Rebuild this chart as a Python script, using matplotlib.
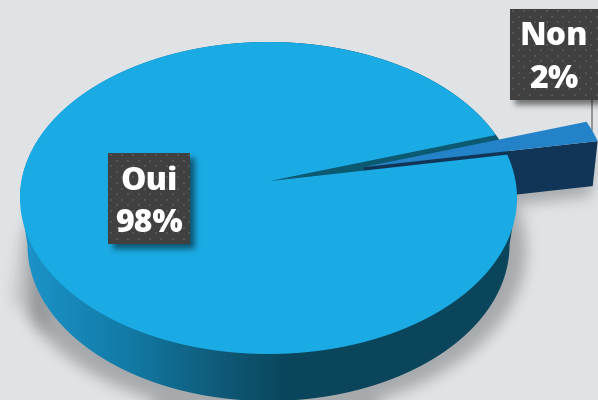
import numpy as np
import matplotlib
matplotlib.use('Agg')
import matplotlib.pyplot as plt
from matplotlib.patches import Polygon, Rectangle
from matplotlib.path import Path

# data
labels = ["Oui", "Non"]
shares = [98, 2]

W, H = 598, 400
BG = "#DFE3E6"

fig = plt.figure(figsize=(W / 100, H / 100), dpi=100, facecolor=BG)
ax = fig.add_axes([0, 0, 1, 1])
ax.axis('off')

# top and bottom ellipse of the disc, in pixels
cx, cy, rx, ry = 268.5, 198, 248.5, 156
bx, by, brx, bry = 268.5, 245, 241, 156
apex = np.array([270.0, 181.0])
squash = 0.7
start = 9.0  # where the small slice starts, degrees
sweep = 360 * shares[1] / sum(shares)


def rim_point(deg):
    # from the apex along a squashed ray, out to the top ellipse
    t = np.radians(deg)
    d = np.array([np.cos(t), -squash * np.sin(t)])
    ox, oy = apex[0] - cx, apex[1] - cy
    a = (d[0] / rx) ** 2 + (d[1] / ry) ** 2
    b = 2 * (ox * d[0] / rx ** 2 + oy * d[1] / ry ** 2)
    c = (ox / rx) ** 2 + (oy / ry) ** 2 - 1
    s = (-b + np.sqrt(b * b - 4 * a * c)) / (2 * a)
    return apex + s * d


def blur(img, sigma):
    n = int(sigma * 3)
    k = np.exp(-np.arange(-n, n + 1) ** 2 / (2 * sigma ** 2))
    k = k / k.sum()
    img = np.apply_along_axis(lambda r: np.convolve(r, k, mode='same'), 0, img)
    img = np.apply_along_axis(lambda r: np.convolve(r, k, mode='same'), 1, img)
    return img


def shadow_layer(mask, sigma, alpha, zorder):
    pad = 40
    big = np.pad(mask.astype(float), pad, mode='edge')
    a = blur(big, sigma)[pad:-pad, pad:-pad] * alpha
    rgba = np.zeros((H, W, 4))
    rgba[..., 3] = a
    return ax.imshow(rgba, extent=(0, W, H, 0), aspect='auto', zorder=zorder, interpolation='bilinear')


def ell(x0, y0, a, b, t1, t2, n=200):
    t = np.radians(np.linspace(t1, t2, n))
    return np.column_stack([x0 + a * np.cos(t), y0 - b * np.sin(t)])


xx, yy = np.meshgrid(np.arange(W) + 0.5, np.arange(H) + 0.5)
grid = np.column_stack([xx.ravel(), yy.ravel()])

# slice corners
rim_angles = np.linspace(start, start + sweep, 12)
rim = np.array([rim_point(a) for a in rim_angles])
slice_apex = np.array([364.0, 167.0])
slice_rim = slice_apex + 0.985 * (rim - apex)

wall_pts = np.vstack([slice_apex, slice_rim[:1], slice_rim[:1] + [-5, 45], slice_apex + [-5, 45]])

# soft shadow under disc and slice
m = ((xx - 266) / 260.0) ** 2 + ((yy - 250) / 166.0) ** 2 < 1
m = m & (yy > 205) & (xx > 30)
m2 = Path(wall_pts + [-2, 10]).contains_points(grid).reshape(H, W)
shadow_layer(m | m2, 7, 0.25, 1)

# faint tail of the shadow on the left
tail = Path([(23, 226), (12, 300), (50, 335), (40, 240)]).contains_points(grid).reshape(H, W)
shadow_layer(tail, 7, 0.13, 1)

# side of the disc with the dark gradient
stops_x = [27, 130, 220, 290, 510]
stops_c = [(27, 147, 201), (18, 122, 165), (15, 90, 120), (10, 69, 91), (10, 69, 91)]
xs = np.arange(W) + 0.5
grad = np.zeros((1, W, 3))
for i in range(3):
    grad[0, :, i] = np.interp(xs, stops_x, [c[i] / 255 for c in stops_c])
hull = np.vstack([ell(bx, by, brx, bry, 180, 360), ell(cx, cy, rx, ry, 0, 180)])
side = ax.imshow(grad, extent=(0, W, H, 0), aspect='auto', zorder=2)
side.set_clip_path(Polygon(hull, closed=True, transform=ax.transData))

# notch, pulled out slice, top of the disc
arc_angles = np.linspace(start + sweep, start + 360, 500)
top = np.vstack([apex, [rim_point(a) for a in arc_angles]])
ax.add_patch(Polygon(np.vstack([apex, rim]), closed=True, fc="#0B5A72", ec='none', zorder=3))
ax.add_patch(Polygon(wall_pts, closed=True, fc="#113557", ec='none', zorder=4))
ax.add_patch(Polygon(np.vstack([slice_apex, slice_rim]), closed=True, fc="#2382C8", ec='none', zorder=5))
ax.add_patch(Polygon(top, closed=True, fc="#1BABE4", ec='none', zorder=6))

# leader line
ax.plot([592, 592], [100, 130], color="#858585", lw=1.2, zorder=4.5)

# label boxes
boxes = [(108, 153, 82, 91), (510, 9, 95, 91)]
text_pos = [(149, 190, 232), (554, 45, 88)]
for i, (bxx, byy, bw, bh) in enumerate(boxes):
    sm = (xx > bxx + 5) & (xx < bxx + bw + 5) & (yy > byy + 5) & (yy < byy + bh + 5)
    shadow_layer(sm, 3, 0.5, 7)
    r = Rectangle((bxx, byy), bw, bh, fc="#404040", ec='none', zorder=8)
    ax.add_patch(r)
    px, py = [], []
    for j, y in enumerate(np.arange(byy + 2, byy + bh, 5.6)):
        for x in np.arange(bxx + 3 + (j % 2) * 5.6, bxx + bw, 11.2):
            px.append(x)
            py.append(y)
    dots = ax.scatter(px, py, s=3.6, marker='s', color="#545454", linewidths=0, zorder=8.5)
    dots.set_clip_path(r)
    tx, y1, y2 = text_pos[i]
    ax.text(tx, y1, labels[i], color='white', family='Open Sans', weight=800, fontsize=23,
            ha='center', va='baseline', zorder=9)
    ax.text(tx, y2, "%d%%" % shares[i], color='white', family='Open Sans', weight=800, fontsize=23,
            ha='center', va='baseline', zorder=9)

ax.set_xlim(0, W)
ax.set_ylim(H, 0)
fig.savefig('out.png', dpi=100, facecolor=BG)
